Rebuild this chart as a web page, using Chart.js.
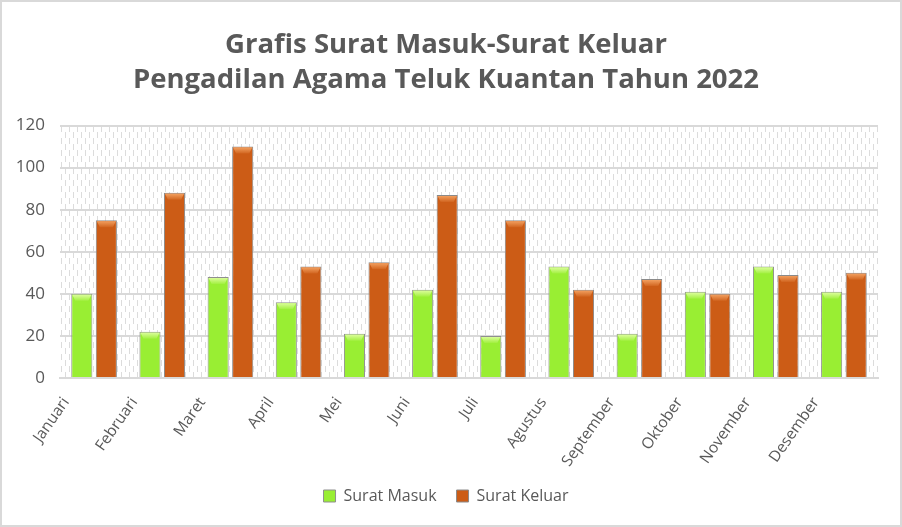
<!DOCTYPE html>
<html>
<head>
<meta charset="utf-8">
<script src="https://cdn.jsdelivr.net/npm/chart.js@4.4.0/dist/chart.umd.min.js"></script>
<style>
    html, body { margin: 0; padding: 0; background: #fff; }
    #wrap { width: 902px; height: 527px; position: relative; }
</style>
</head>
<body>
<div id="wrap"><canvas id="suratChart" width="902" height="527"></canvas></div>
<script>
// data
const months = ['Januari', 'Februari', 'Maret', 'April', 'Mei', 'Juni',
    'Juli', 'Agustus', 'September', 'Oktober', 'November', 'Desember'];
const suratMasuk = [40, 22, 48, 36, 21, 42, 20, 53, 21, 41, 53, 41];
const suratKeluar = [75, 88, 110, 53, 55, 87, 75, 42, 47, 40, 49, 50];
const yTicks = [0, 20, 40, 60, 80, 100, 120];

const textGray = '#595959';
const gridGray = '#d9d9d9';

// dashed texture for the plot area
function makePattern(ctx) {
    const tile = document.createElement('canvas');
    tile.width = 8;
    tile.height = 12;
    const t = tile.getContext('2d');
    t.fillStyle = '#ffffff';
    t.fillRect(0, 0, 8, 12);
    t.fillStyle = '#dcdcdc';
    t.fillRect(1, 0, 1, 6);
    t.fillRect(5, 6, 1, 6);
    return ctx.createPattern(tile, 'repeat');
}

const backgroundPlugin = {
    id: 'plotBackground',
    beforeDraw(chart) {
        const { ctx, chartArea } = chart;
        ctx.save();
        ctx.fillStyle = '#fff';
        ctx.fillRect(0, 0, chart.width, chart.height);
        ctx.fillStyle = makePattern(ctx);
        ctx.fillRect(chartArea.left, chartArea.top, chartArea.width, chartArea.height);
        ctx.restore();
    },
    afterDraw(chart) {
        // outer frame
        const { ctx } = chart;
        ctx.save();
        ctx.strokeStyle = '#d9d9d9';
        ctx.lineWidth = 2;
        ctx.strokeRect(1, 1, chart.width - 2, chart.height - 2);
        ctx.restore();
    }
};

// lighter bevel at the top of each bar
const bevelPlugin = {
    id: 'barBevel',
    afterDatasetsDraw(chart) {
        const { ctx } = chart;
        const caps = [['#e4ffa8', '#99ee33'], ['#f7a868', '#cc5c16']];
        chart.data.datasets.forEach((ds, i) => {
            const meta = chart.getDatasetMeta(i);
            meta.data.forEach(bar => {
                const w = bar.width;
                const left = bar.x - w / 2;
                const right = bar.x + w / 2;
                const g = ctx.createLinearGradient(0, bar.y, 0, bar.y + 8);
                g.addColorStop(0, caps[i][0]);
                g.addColorStop(1, caps[i][1]);
                ctx.save();
                ctx.fillStyle = g;
                ctx.beginPath();
                ctx.moveTo(left + 1, bar.y + 1);
                ctx.lineTo(right - 1, bar.y + 1);
                ctx.lineTo(right - 4, bar.y + 7);
                ctx.lineTo(left + 4, bar.y + 7);
                ctx.closePath();
                ctx.fill();
                ctx.restore();
            });
        });
    }
};

new Chart(document.getElementById('suratChart'), {
    type: 'bar',
    data: {
        labels: months,
        datasets: [{
            label: 'Surat Masuk',
            data: suratMasuk,
            backgroundColor: '#99ee33',
            borderColor: '#8f8f8f',
            borderWidth: 1
        }, {
            label: 'Surat Keluar',
            data: suratKeluar,
            backgroundColor: '#cc5c16',
            borderColor: '#8a8a8a',
            borderWidth: 1
        }]
    },
    options: {
        responsive: false,
        animation: false,
        layout: {
            padding: { left: 14, right: 24, top: 0, bottom: 13 }
        },
        datasets: {
            bar: { categoryPercentage: 0.72, barPercentage: 0.86 }
        },
        scales: {
            x: {
                grid: { display: false, drawTicks: false },
                border: { color: gridGray, width: 2 },
                ticks: {
                    color: textGray,
                    font: { family: 'Open Sans', size: 15.5 },
                    minRotation: 55,
                    maxRotation: 55,
                    labelOffset: -28,
                    padding: 16
                },
                afterFit(scale) {
                    // rotated labels are shifted left, keep the axis band fixed
                    scale.paddingLeft = 0;
                    scale.paddingRight = 0;
                    scale.height = 90;
                }
            },
            y: {
                min: 0,
                max: 120,
                afterBuildTicks(axis) {
                    axis.ticks = yTicks.map(v => ({ value: v }));
                },
                afterFit(scale) {
                    scale.width = 46;
                },
                grid: { color: gridGray, lineWidth: 2, drawTicks: false },
                border: { display: false },
                ticks: {
                    color: textGray,
                    font: { family: 'Open Sans', size: 17 },
                    padding: 15
                }
            }
        },
        plugins: {
            title: {
                display: true,
                text: ['Grafis Surat Masuk-Surat Keluar', 'Pengadilan Agama Teluk Kuantan Tahun 2022'],
                color: textGray,
                font: { family: 'Open Sans', size: 27.5, weight: 'bold', lineHeight: 1.3 },
                padding: { top: 27, bottom: 27 }
            },
            legend: {
                position: 'bottom',
                labels: {
                    color: textGray,
                    font: { family: 'Open Sans', size: 16 },
                    boxWidth: 12,
                    boxHeight: 12,
                    padding: 20
                }
            },
            tooltip: { enabled: false }
        }
    },
    plugins: [backgroundPlugin, bevelPlugin]
});
</script>
</body>
</html>
